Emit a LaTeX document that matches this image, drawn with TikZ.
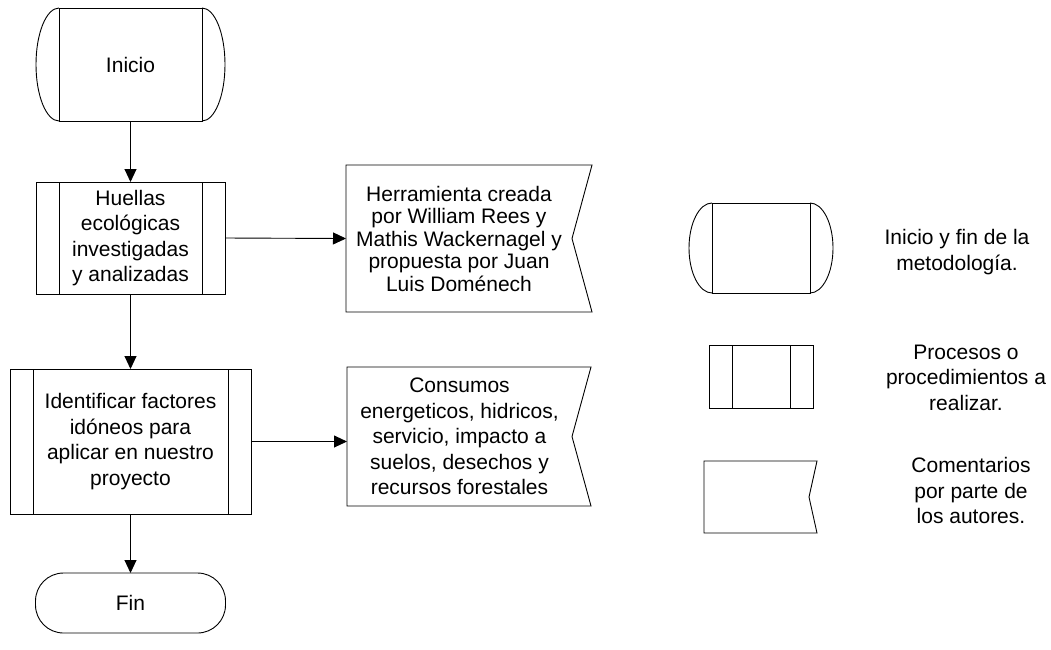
\documentclass[tikz,border=0pt]{standalone}
\usepackage{fontspec}
\setmainfont{Liberation Sans}
\usetikzlibrary{arrows.meta}
\tikzset{base/.style={draw=black, line width=0.9pt, align=center, inner sep=0pt, outer sep=0pt,
		font=\fontsize{21}{25.5}\selectfont},
	proceso/.style={base, rectangle, path picture={%
			\draw[line width=0.9pt] ([xshift=23pt]path picture bounding box.north west) -- ([xshift=23pt]path picture bounding box.south west);
			\draw[line width=0.9pt] ([xshift=-23pt]path picture bounding box.north east) -- ([xshift=-23pt]path picture bounding box.south east);}},
	terminal/.style={base, rectangle},
	fin/.style={base, rectangle, rounded corners=28pt},
	comentario/.style={base, draw=none, rectangle},
	flecha/.style={line width=0.9pt, -{Triangle[length=13pt,width=12pt]}}}
% arcs on both sides of a terminal node
\newcommand{\bordes}[3]{%
	\draw[line width=0.9pt] (#1.north west) arc[start angle=90, end angle=270, x radius=#2, y radius=#3];
	\draw[line width=0.9pt] (#1.north east) arc[start angle=90, end angle=-90, x radius=#2, y radius=#3];}
% flag outline of a comment node
\newcommand{\bandera}[2]{%
	\draw[line width=0.9pt] (#1.north west) -- ([xshift=#2]#1.north east) -- (#1.east) -- ([xshift=#2]#1.south east) -- (#1.south west) -- cycle;}

\begin{document}
\begin{tikzpicture}[x=1pt,y=-1pt]
	\useasboundingbox (0,0) rectangle (1051,649);
	% main flow
	\node[terminal, minimum width=143pt, minimum height=113pt] (inicio) at (130.5,64.5) {Inicio};
	\bordes{inicio}{23pt}{56.5pt}
	\node[proceso, minimum width=189pt, minimum height=112pt] (huellas) at (130.5,238) {Huellas\\ecológicas\\investigadas\\y analizadas};
	\node[proceso, minimum width=241pt, minimum height=145pt] (factores) at (130.5,441.5) {Identificar factores\\idóneos para\\aplicar en nuestro\\proyecto};
	\node[fin, minimum width=190pt, minimum height=60pt] (fin) at (130.5,603) {Fin};
	% comments
	\node[comentario, minimum width=226pt, minimum height=147pt, font=\fontsize{21}{22.5}\selectfont] (herramienta) at (459,238.5) {Herramienta creada\\por William Rees y\\Mathis Wackernagel y\\propuesta por Juan\\Luis Doménech};
	\bandera{herramienta}{20pt}
	\node[comentario, minimum width=225pt, minimum height=139pt] (consumos) at (459.5,436.5) {Consumos\\energeticos, hidricos,\\servicio, impacto a\\suelos, desechos y\\recursos forestales};
	\bandera{consumos}{19pt}
	% connectors
	\draw[flecha] (inicio) -- (huellas);
	\draw[flecha] (huellas) -- (factores);
	\draw[flecha] (factores) -- (fin);
	\draw[flecha] (huellas.east) -- (herramienta.west);
	\draw[flecha] (factores.east) -- (factores.east -| consumos.west);
	% legend
	\node[terminal, minimum width=98pt, minimum height=90pt] (leyini) at (761,248) {};
	\bordes{leyini}{23pt}{45pt}
	\node[base, draw=none] (txtini) at (957,252) {Inicio y fin de la\\metodología.};
	\node[proceso, minimum width=104pt, minimum height=63pt] (leyproc) at (761,376.5) {};
	\node[base, draw=none] (txtproc) at (966,377.5) {Procesos o\\procedimientos a\\realizar.};
	\node[comentario, minimum width=105pt, minimum height=72pt] (leycom) at (756.5,497) {};
	\bandera{leycom}{8pt}
	\node[base, draw=none] (txtcom) at (971,490.5) {Comentarios\\por parte de\\los autores.};
\end{tikzpicture}
\end{document}
